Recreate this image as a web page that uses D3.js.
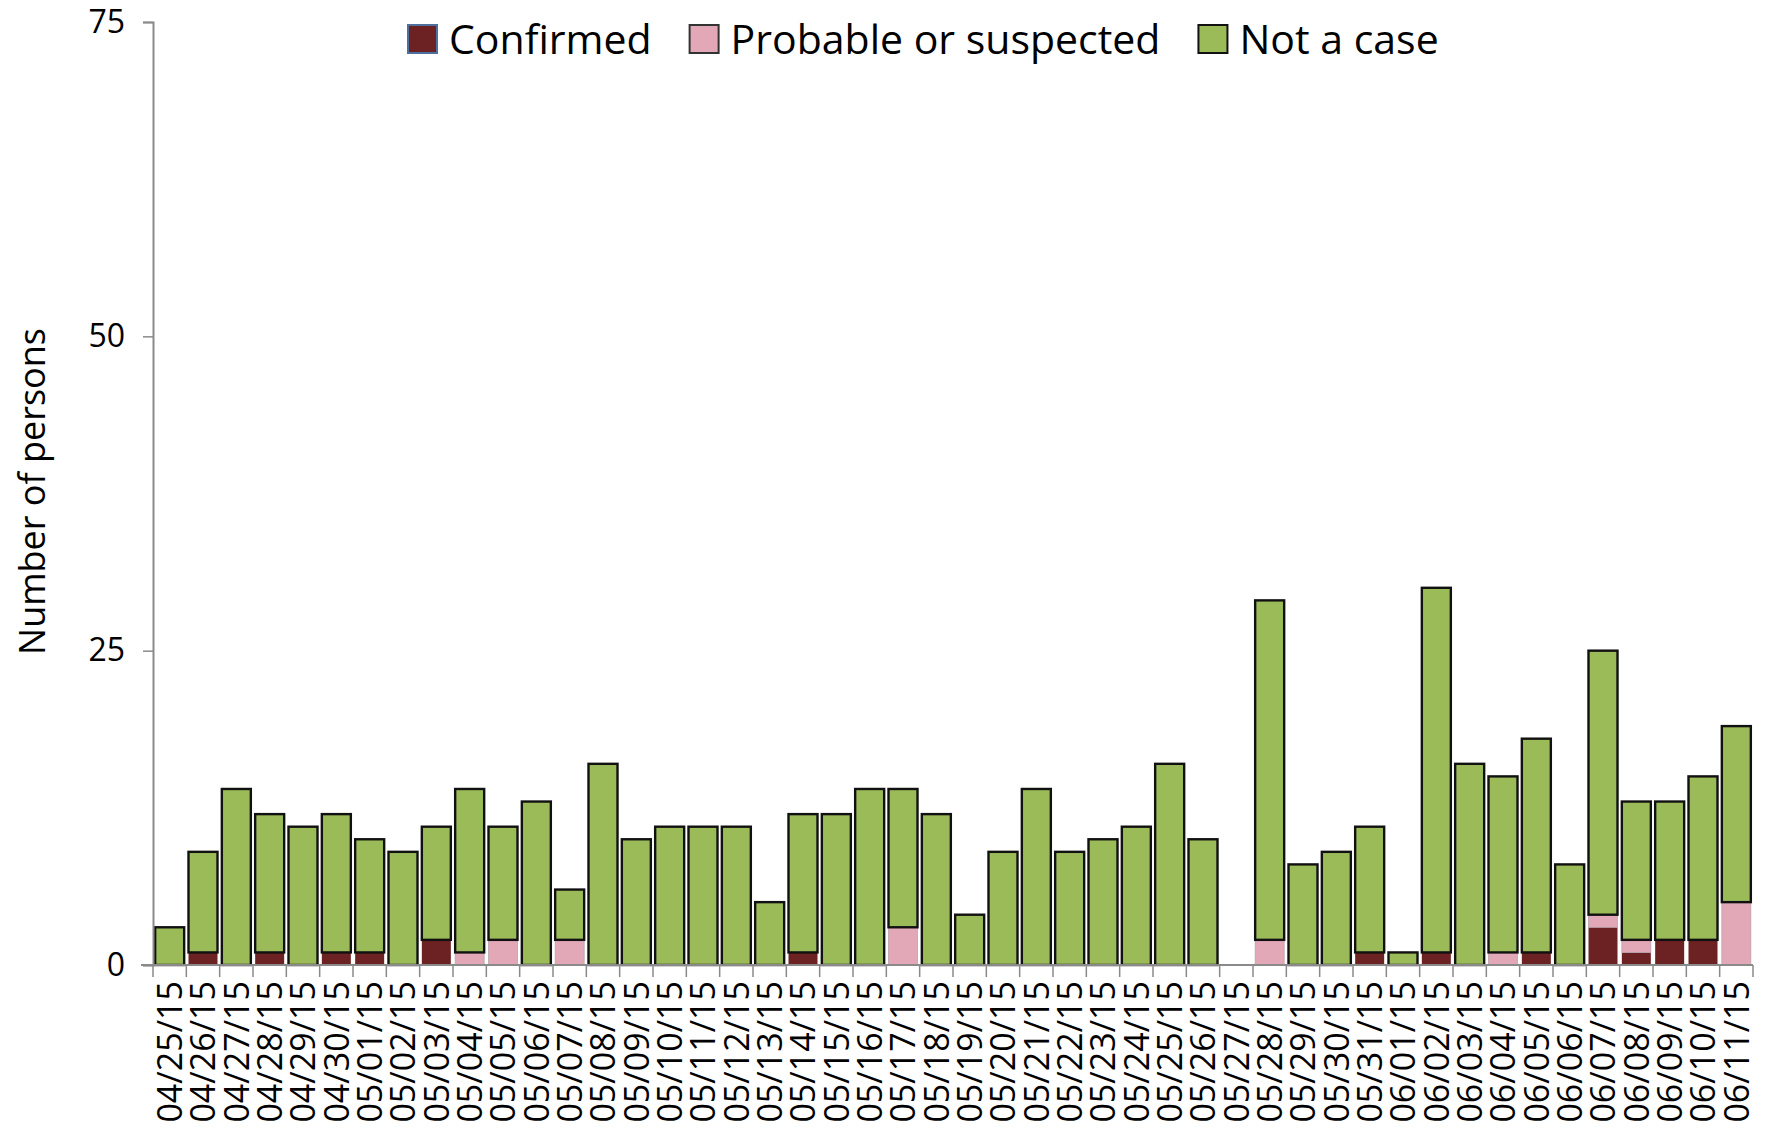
<!DOCTYPE html>
<html>
<head>
<meta charset="utf-8">
<script src="https://cdn.jsdelivr.net/npm/d3@7"></script>
<style>
  body { margin: 0; background: #fff; }
  text { font-family: "Open Sans", "Noto Sans", sans-serif; fill: #000; }
</style>
</head>
<body>
<div id="container"></div>
<script>
// daily counts
var dates = ["04/25/15","04/26/15","04/27/15","04/28/15","04/29/15","04/30/15",
  "05/01/15","05/02/15","05/03/15","05/04/15","05/05/15","05/06/15","05/07/15","05/08/15",
  "05/09/15","05/10/15","05/11/15","05/12/15","05/13/15","05/14/15","05/15/15","05/16/15",
  "05/17/15","05/18/15","05/19/15","05/20/15","05/21/15","05/22/15","05/23/15","05/24/15",
  "05/25/15","05/26/15","05/27/15","05/28/15","05/29/15","05/30/15","05/31/15",
  "06/01/15","06/02/15","06/03/15","06/04/15","06/05/15","06/06/15","06/07/15","06/08/15",
  "06/09/15","06/10/15","06/11/15"];
var confirmed = [0,1,0,1,0,1,1,0,2,0,0,0,0,0,0,0,0,0,0,1,0,0,0,0,0,0,0,0,0,0,0,0,0,0,0,0,1,0,1,0,0,1,0,3,1,2,2,0];
var probable  = [0,0,0,0,0,0,0,0,0,1,2,0,2,0,0,0,0,0,0,0,0,0,3,0,0,0,0,0,0,0,0,0,0,2,0,0,0,0,0,0,1,0,0,1,1,0,0,5];
var notCase   = [3,8,14,11,11,11,9,9,9,13,9,13,4,16,10,11,11,11,5,11,12,14,11,12,4,9,14,9,10,11,16,10,0,27,8,9,10,1,29,16,14,17,8,21,11,11,13,14];
var yTicks = [0, 25, 50, 75];
var seriesNames = ["Confirmed", "Probable or suspected", "Not a case"];
var colors = ["#6c2222", "#e3a8b8", "#9bbb59"];

var W = 1768, H = 1133;
var mLeft = 153, mRight = 1753, mTop = 22, mBottom = 965;

var svg = d3.select("#container").append("svg")
  .attr("width", W).attr("height", H);

var rows = dates.map(function (d, i) {
  return { date: d, c: confirmed[i], p: probable[i], n: notCase[i] };
});

var x = d3.scaleBand().domain(dates).range([mLeft, mRight]).paddingInner(0.13).paddingOuter(0.065);
var y = d3.scaleLinear().domain([0, 75]).range([mBottom, mTop]);

var stack = d3.stack().keys(["c", "p", "n"]);
var layers = stack(rows);

// bars
svg.append("g").selectAll("g")
  .data(layers)
  .join("g")
  .attr("fill", function (d, i) { return colors[i]; })
  .each(function (layer, li) {
    d3.select(this).selectAll("rect")
      .data(layer.filter(function (s) { return s[1] > s[0]; }))
      .join("rect")
      .attr("x", function (s) { return x(s.data.date); })
      .attr("width", x.bandwidth())
      .attr("y", function (s) { return y(s[1]); })
      .attr("height", function (s) { return y(s[0]) - y(s[1]); })
      .attr("stroke", li == 2 ? "#111" : (li == 1 ? "#b7a3ad" : "none"))
      .attr("stroke-width", li == 2 ? 2.4 : 0.8);
  });

// x axis: line with ticks at band edges
var step = x.step();
var xa = svg.append("g");
xa.append("line")
  .attr("x1", mLeft - 12).attr("x2", mRight)
  .attr("y1", mBottom).attr("y2", mBottom)
  .attr("stroke", "#8a8a8a").attr("stroke-width", 2);
var edges = d3.range(dates.length + 1).map(function (i) { return mLeft + i * step; });
xa.selectAll("line.tk").data(edges).join("line")
  .attr("class", "tk")
  .attr("x1", function (d) { return d; }).attr("x2", function (d) { return d; })
  .attr("y1", mBottom).attr("y2", mBottom + 12)
  .attr("stroke", "#8a8a8a").attr("stroke-width", 1.5);
xa.selectAll("text").data(dates).join("text")
  .attr("transform", function (d) {
    return "translate(" + (x(d) + x.bandwidth() / 2) + "," + (mBottom + 16) + ") rotate(-90)";
  })
  .attr("text-anchor", "end")
  .attr("dy", "0.36em")
  .style("font-size", "34px")
  .text(function (d) { return d; });

// y axis
var yAxis = d3.axisLeft(y).tickValues(yTicks).tickSize(10).tickPadding(18);
var ya = svg.append("g").attr("transform", "translate(" + mLeft + ",0)").call(yAxis);
ya.select(".domain").attr("stroke", "#8a8a8a").attr("stroke-width", 2);
ya.selectAll(".tick line").attr("stroke", "#8a8a8a").attr("stroke-width", 1.5);
ya.selectAll(".tick text").style("font-size", "32px").attr("fill", "#000")
  .style("font-family", "'Open Sans', sans-serif");

svg.append("text")
  .attr("transform", "translate(32," + ((mTop + mBottom) / 2 - 2) + ") rotate(-90)")
  .attr("text-anchor", "middle")
  .attr("dy", "0.35em")
  .style("font-size", "36px")
  .text("Number of persons");

// legend
var legStroke = ["#4f6f9f", "#333", "#111"];
var lx = 408;
seriesNames.forEach(function (name, i) {
  svg.append("rect")
    .attr("x", lx).attr("y", 25).attr("width", 29).attr("height", 28)
    .attr("fill", colors[i]).attr("stroke", legStroke[i]).attr("stroke-width", 2);
  var t = svg.append("text")
    .attr("x", lx + 41).attr("y", 39).attr("dy", "0.36em")
    .style("font-size", "41px")
    .text(name);
  lx = lx + 41 + t.node().getComputedTextLength() + 38;
});
</script>
</body>
</html>
